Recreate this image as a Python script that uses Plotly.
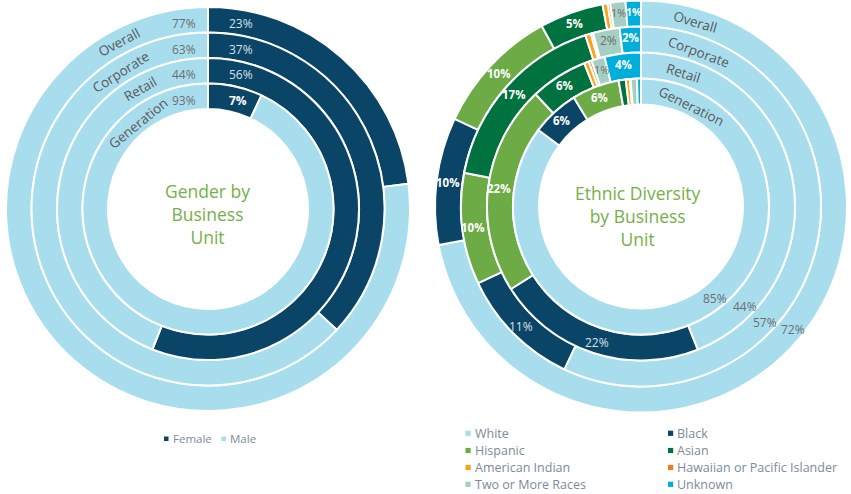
import math
import plotly.graph_objects as go

# ---------------- data ----------------
rings = ["Overall", "Corporate", "Retail", "Generation"]   # outer -> inner

gender_labels = ["Female", "Male"]
female = [23, 37, 56, 7]
male = [77, 63, 44, 93]

eth_labels = ["White", "Black", "Hispanic", "Asian", "American Indian",
              "Hawaiian or Pacific Islander", "Two or More Races", "Unknown"]
white = [72, 57, 44, 85.2]
black = [10, 11, 22, 6]
hispanic = [10, 10, 22, 6]
asian = [5, 17, 6, 0.9]
american_indian = [0.4, 0.5, 0.5, 0.5]
hawaiian = [0.2, 0.2, 0.3, 0.1]
two_or_more = [1.2, 2.4, 1.4, 0.8]
unknown = [1.2, 1.9, 3.8, 0.5]

gender_title = "Gender by<br>Business<br>Unit"
eth_title = "Ethnic Diversity<br>by Business<br>Unit"

# ---------------- style ----------------
W, H = 851, 494
FONT = "Open Sans"
NAVY = "#0A4567"
LIGHT = "#A8DDED"
GREEN = "#6CAB45"
DKGREEN = "#007240"
ORANGE = "#F8A31B"
ORANGE2 = "#F27A21"
SAGE = "#A6CFC3"
CYAN = "#00AEDB"
TITLE_GREEN = "#74B047"
GRAY = "#6D6E71"
LEG_GRAY = "#7A8B99"

gender_colors = [NAVY, LIGHT]
eth_colors = [LIGHT, NAVY, GREEN, DKGREEN, ORANGE, ORANGE2, SAGE, CYAN]

# geometry in pixels (figure has zero margins)
L_CX, L_CY, L_R, L_HOLE = 208, 209, 202, 100
R_CX, R_CY, R_R, R_HOLE = 641, 206.5, 206, 102
# the "White" labels of the right chart sit along one diagonal (degrees clockwise from 12 o'clock)
white_label_angle = [129, 133, 134, 141]


def paper(x, y):
    return x / W, 1 - y / H


def ring_geom(cx, cy, R, hole, i):
    rw = (R - hole) / 4
    r_out = R - i * rw
    r_in = r_out - rw
    dom = dict(x=[(cx - r_out) / W, (cx + r_out) / W],
               y=[max(0, (H - cy - r_out) / H), min(1, (H - cy + r_out) / H)])
    return dom, r_in / r_out, (r_out + r_in) / 2


fig = go.Figure()
ann = []

# ---------------- left: gender ----------------
for i, ring in enumerate(rings):
    dom, hole, rmid = ring_geom(L_CX, L_CY, L_R, L_HOLE, i)
    fig.add_trace(go.Pie(
        labels=gender_labels, values=[female[i], male[i]], name=ring,
        domain=dom, hole=hole, sort=False, direction="clockwise", rotation=0,
        marker=dict(colors=gender_colors, line=dict(color="white", width=2)),
        textinfo="none", showlegend=False,
        hovertemplate=ring + "<br>%{label}: %{value}%<extra></extra>"))
    y = L_CY - rmid + 4
    gen = (ring == "Generation")
    xm, ym = paper(L_CX - 10, y)
    ann.append(dict(x=xm, y=ym, text=f"{male[i]}%", xanchor="right", yanchor="middle",
                    font=dict(family=FONT, size=12, color=GRAY)))
    xf, yf = paper(L_CX + 19, y)
    ann.append(dict(x=xf, y=yf, text=(f"<b>{female[i]}%</b>" if gen else f"{female[i]}%"),
                    xanchor="left", yanchor="middle",
                    font=dict(family=FONT, size=12, color="white" if gen else "#D6E0E7")))

# ---------------- right: ethnicity ----------------
eth_values = [white, black, hispanic, asian, american_indian, hawaiian, two_or_more, unknown]
black_bold = [True, False, False, True]
for i, ring in enumerate(rings):
    dom, hole, rmid = ring_geom(R_CX, R_CY, R_R, R_HOLE, i)
    vals = [s[i] for s in eth_values]
    fig.add_trace(go.Pie(
        labels=eth_labels, values=vals, name=ring,
        domain=dom, hole=hole, sort=False, direction="clockwise", rotation=0,
        marker=dict(colors=eth_colors, line=dict(color="white", width=2)),
        textinfo="none", showlegend=False,
        hovertemplate=ring + "<br>%{label}: %{value}%<extra></extra>"))
    total = sum(vals)
    cum = 0
    for lab, v in zip(eth_labels, vals):
        mid = (cum + v / 2) / total * 2 * math.pi
        cum += v
        if v < 1:
            continue
        r = rmid + 2
        if lab == "White":
            mid = math.radians(white_label_angle[i])
            r = rmid + 3
        x, y = paper(R_CX + r * math.sin(mid), R_CY - r * math.cos(mid))
        txt = f"{round(v)}%"
        small = v < 1.5
        if lab in ("White", "Two or More Races"):
            font = dict(family=FONT, size=11 if small else 12, color=GRAY)
        elif lab == "Black" and not black_bold[i]:
            font = dict(family=FONT, size=12, color="#D6E0E7")
        else:
            txt = f"<b>{txt}</b>"
            font = dict(family=FONT, size=10.5 if small else 11.5, color="white")
        ann.append(dict(x=x, y=y, text=txt, xanchor="center", yanchor="middle",
                        borderpad=0, font=font))

# ---------------- ring names (tangent text) ----------------
left_name_angles = [-28, -32.5, -29.5, -39]
right_name_angles = [16.5, 20.5, 17.5, 26.5]
name_widths = [44, 64, 38, 70]
for cx, cy, R, hole, angs in ((L_CX, L_CY, L_R, L_HOLE, left_name_angles),
                              (R_CX, R_CY, R_R, R_HOLE, right_name_angles)):
    for i, ring in enumerate(rings):
        _, _, rmid = ring_geom(cx, cy, R, hole, i)
        half = (name_widths[i] / 2) / rmid
        r = rmid - rmid * (1 - math.cos(half)) / 2
        a = math.radians(angs[i])
        x, y = paper(cx + r * math.sin(a), cy - r * math.cos(a))
        ann.append(dict(x=x, y=y, text=ring, xanchor="center", yanchor="middle",
                        textangle=angs[i], font=dict(family=FONT, size=13.5, color="#595959")))

# ---------------- center titles ----------------
for cx, cy, t in ((207, 213.5, gender_title), (638, 215.5, eth_title)):
    x, y = paper(cx, cy)
    ann.append(dict(x=x, y=y, text=t, xanchor="center", yanchor="middle",
                    font=dict(family=FONT, size=17.5, color=TITLE_GREEN)))

# ---------------- legends (drawn) ----------------
shapes = []


def legend_item(sx, sy, size, color, label, fsize):
    x0, y0 = paper(sx, sy)
    x1, y1 = paper(sx + size, sy + size)
    shapes.append(dict(type="rect", xref="paper", yref="paper", x0=x0, x1=x1, y0=y1, y1=y0,
                       fillcolor=color, line=dict(width=0)))
    tx, ty = paper(sx + size + 3, sy + size / 2)
    ann.append(dict(x=tx, y=ty, text=label, xanchor="left", yanchor="middle",
                    borderpad=0, font=dict(family=FONT, size=fsize, color=LEG_GRAY)))


legend_item(164, 436.5, 4.5, NAVY, "Female", 11.5)
legend_item(221.5, 436.5, 4.5, LIGHT, "Male", 11.5)

row_y = [433.3, 450.5, 467.5, 484.3]
col_x = [465.5, 668]
for k, (lab, col) in enumerate(zip(eth_labels, eth_colors)):
    r, c = divmod(k, 2)
    legend_item(col_x[c], row_y[r] - 2.6, 5.2, col, lab, 12.5)

for a in ann:
    a.update(xref="paper", yref="paper", showarrow=False)

fig.update_layout(
    width=W, height=H, autosize=False,
    margin=dict(l=0, r=0, t=0, b=0, pad=0),
    paper_bgcolor="white", plot_bgcolor="white",
    annotations=ann, shapes=shapes, showlegend=False,
    font=dict(family=FONT),
)

fig.write_html("out.html", config={"displayModeBar": False},
               post_script="document.body.style.margin='0';")
